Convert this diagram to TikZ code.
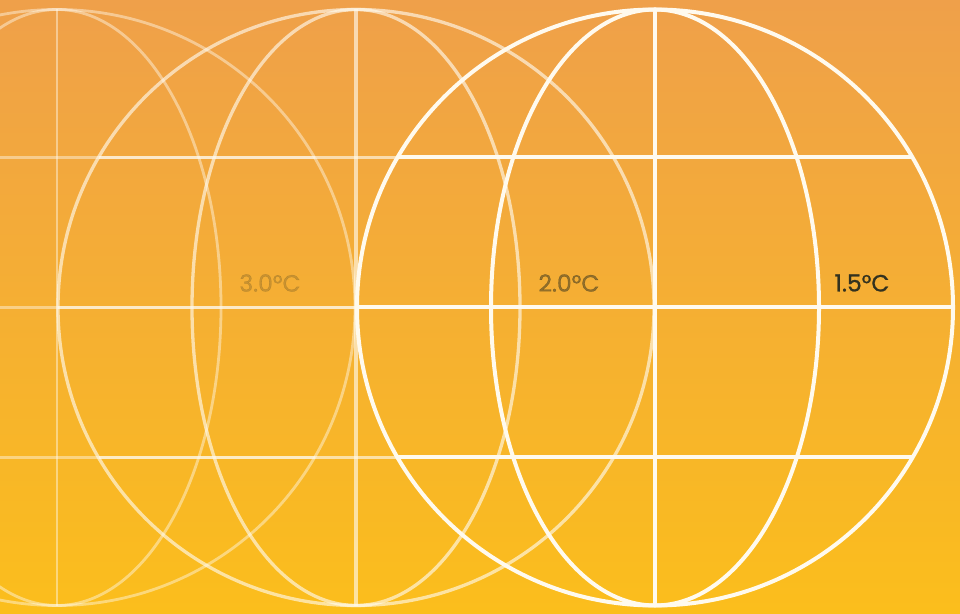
\documentclass[tikz,border=0pt]{standalone}
\usepackage{fontspec}
\setmainfont{Poppins}
\newfontfamily\labelfont[FakeBold=0.9]{Poppins}
\definecolor{bgtop}{HTML}{EFA04A}
\definecolor{bgbot}{HTML}{FBBE1C}
\definecolor{gline}{HTML}{FFFAEE}
\definecolor{labeltext}{HTML}{33321F}
\tikzset{
  globeline/.style={draw=gline, line width=#1},
  templabel/.style={font=\labelfont\fontsize{23.5}{26}\selectfont, text=labeltext, inner sep=0pt, anchor=center}
}
\newcommand\myglobe[3]{%
  \begin{scope}[shift={(#1,305.5)}, draw opacity=#2]
    \draw[globeline=#3] (0,0) circle[radius=298];
    \draw[globeline=#3] (0,0) ellipse[x radius=164, y radius=298];
    \draw[globeline=#3] (0,-298) -- (0,298);
    \draw[globeline=#3] (-298,0) -- (298,0);
    \draw[globeline=#3] (-257.5,150) -- (257.5,150);
    \draw[globeline=#3] (-257.5,-150) -- (257.5,-150);
  \end{scope}}
\begin{document}
\begin{tikzpicture}[x=1pt,y=1pt]
  \useasboundingbox (0,0) rectangle (960,613);
  \shade[top color=bgtop, bottom color=bgbot] (0,0) rectangle (960,613);
  \begin{scope}
    \clip (0,0) rectangle (960,613);
    \myglobe{57}{0.45}{2.8pt}
    \myglobe{356}{0.64}{3.3pt}
    \myglobe{655}{1}{4pt}
  \end{scope}
  \node[templabel, text opacity=0.22] (t30) at (270,330) {3.0°C};
  \node[templabel, text opacity=0.5] (t20) at (569,330) {2.0°C};
  \node[templabel] (t15) at (862,330) {1.5°C};
\end{tikzpicture}
\end{document}
